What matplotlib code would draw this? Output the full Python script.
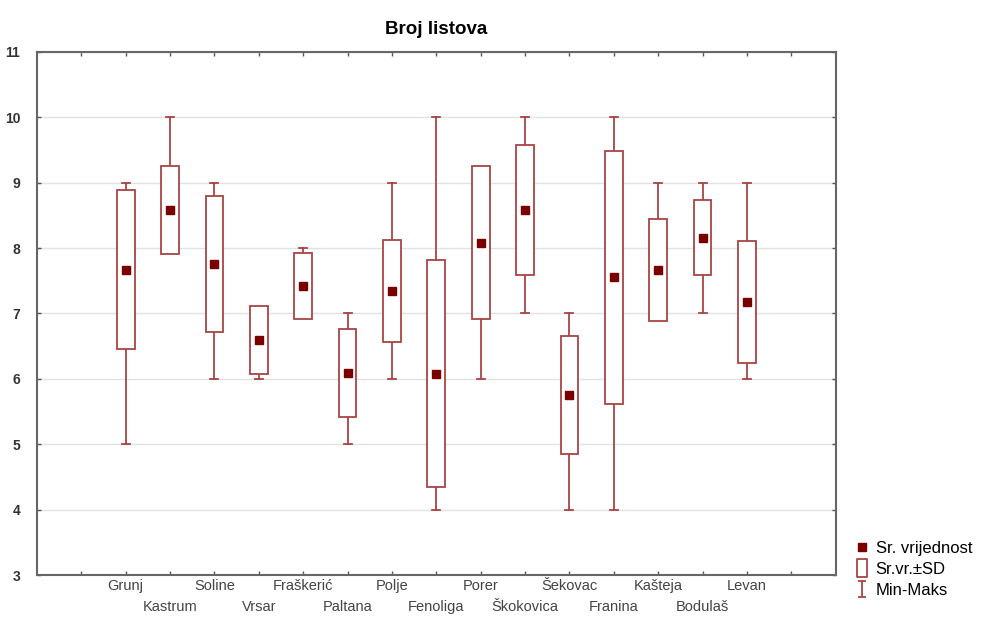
import numpy as np
from matplotlib import pyplot as plt
from matplotlib.patches import Rectangle
from matplotlib.lines import Line2D
from matplotlib.path import Path

plt.rcParams['font.family'] = ['Liberation Sans', 'DejaVu Sans']

# data
sites = ['Grunj', 'Kastrum', 'Soline', 'Vrsar', 'Fraškerić', 'Paltana', 'Polje',
         'Fenoliga', 'Porer', 'Škokovica', 'Šekovac', 'Franina', 'Kašteja',
         'Bodulaš', 'Levan']
means = [7.67, 8.58, 7.75, 6.59, 7.42, 6.09, 7.34, 6.08, 8.08, 8.58, 5.75,
         7.55, 7.66, 8.16, 7.17]
sds = [1.22, 0.67, 1.04, 0.52, 0.51, 0.67, 0.78, 1.73, 1.17, 0.99, 0.90,
       1.94, 0.78, 0.57, 0.93]
mins = [5, 8, 6, 6, 7, 5, 6, 4, 6, 7, 4, 4, 7, 7, 6]
maxs = [9, 10, 9, 7, 8, 7, 9, 10, 9, 10, 7, 10, 9, 9, 9]

line_col = '#a84444'
mean_col = '#7a0000'

fig = plt.figure(figsize=(9.86, 6.17), dpi=100)
ax = fig.add_axes([0.0375, 0.068, 0.81, 0.848])

x = np.arange(1, len(sites) + 1)
box_w = 0.4
cap_w = 0.18

for xi, m, s, lo, hi in zip(x, means, sds, mins, maxs):
    # whisker min-max
    ax.plot([xi, xi], [lo, hi], color=line_col, lw=1.3, zorder=2)
    ax.plot([xi - cap_w / 2, xi + cap_w / 2], [lo, lo], color=line_col, lw=1.3, zorder=2)
    ax.plot([xi - cap_w / 2, xi + cap_w / 2], [hi, hi], color=line_col, lw=1.3, zorder=2)
    # mean +- sd box
    ax.add_patch(Rectangle((xi - box_w / 2, m - s), box_w, 2 * s,
                           facecolor='white', edgecolor=line_col, lw=1.3, zorder=3))
ax.plot(x, means, ls='none', marker='s', ms=5.5, color=mean_col, zorder=4)

ax.set_xlim(-1, 17)
ax.set_ylim(3, 11)
# odd sites on the first row (major ticks), even sites on a second row (minor ticks)
ax.set_xticks(x[::2])
ax.set_xticklabels(sites[::2], fontsize=10.5, color='#444444')
ax.set_xticks(np.arange(0, 17, 2), minor=True)
ax.set_xticklabels([''] + sites[1::2] + [''], minor=True, fontsize=10.5, color='#444444')
ax.set_yticks(np.arange(3, 12))
ax.set_yticklabels([str(v) for v in range(3, 12)], fontsize=10,
                   fontweight='bold', color='#333333')
ax.tick_params(which='both', direction='in', length=3, width=1, color='#555555',
               top=True, right=True, pad=3)
ax.tick_params(axis='x', which='minor', pad=18)
ax.tick_params(axis='y', pad=12)
ax.yaxis.grid(True, color='#e2e2e2', lw=1)
ax.set_axisbelow(True)
for sp in ax.spines.values():
    sp.set_color('#666666')
    sp.set_linewidth(1.5)

ax.set_title('Broj listova', fontsize=13.5, fontweight='bold', pad=13)

# legend symbols
box_marker = Path([(-0.5, -1), (0.5, -1), (0.5, 1), (-0.5, 1), (-0.5, -1)],
                  [Path.MOVETO, Path.LINETO, Path.LINETO, Path.LINETO, Path.CLOSEPOLY])
whisk_marker = Path([(-0.5, 1), (0.5, 1), (0, 1), (0, -1), (-0.5, -1), (0.5, -1)],
                    [Path.MOVETO, Path.LINETO, Path.MOVETO, Path.LINETO,
                     Path.MOVETO, Path.LINETO])
handles = [
    Line2D([], [], ls='none', marker='s', ms=5.5, color=mean_col),
    Line2D([], [], ls='none', marker=box_marker, ms=13, mfc='white',
           mec=line_col, mew=1.3),
    Line2D([], [], ls='none', marker=whisk_marker, ms=12, mec=line_col, mew=1.3),
]
fig.legend(handles, ['Sr. vrijednost', 'Sr.vr.±SD', 'Min-Maks'],
           loc='lower left', bbox_to_anchor=(0.861, 0.02), frameon=False,
           fontsize=12, handlelength=0.8, handletextpad=0.4, labelspacing=0.36,
           borderaxespad=0)

fig.savefig('out.png', dpi=100)
